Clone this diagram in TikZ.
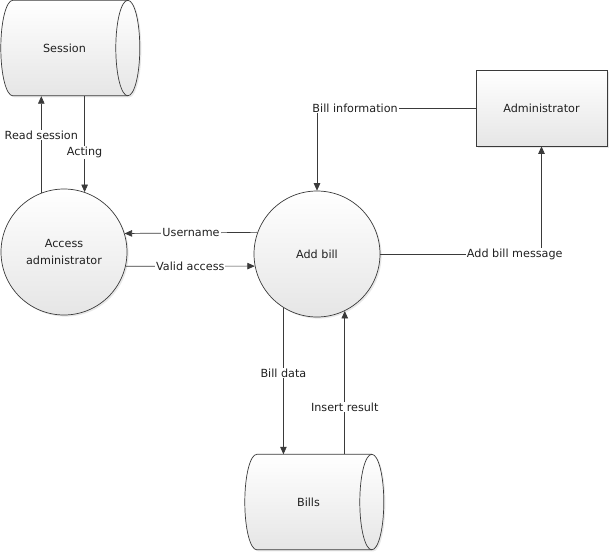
\documentclass[tikz,border=0pt]{standalone}
\usepackage{fontspec}
\setmainfont{DejaVu Sans}
\usetikzlibrary{arrows.meta,shadows,backgrounds}
\definecolor{ink}{HTML}{3A3A3A}
\definecolor{txt}{HTML}{202020}

\tikzset{
  base/.style={draw=ink, line width=0.7pt, top color=white, bottom color=black!10,
    drop shadow={shadow xshift=1.6pt, shadow yshift=-1.6pt, opacity=0.18}},
  process/.style={base, circle, minimum size=126pt, inner sep=0pt, align=center, text=txt},
  entity/.style={base, rectangle, minimum width=131pt, minimum height=76pt, text=txt},
  store/.style={rectangle, minimum width=127pt, minimum height=95.5pt, inner sep=0pt, text=txt},
  flow/.style={draw=ink, line width=0.7pt, -{Triangle[length=7.5pt,width=6.5pt]}},
  link/.style={draw=ink, line width=0.7pt},
  tag/.style={fill=white, inner sep=1pt, text=txt},
}

% data store outline: bulging left end, open ellipse on the right
\newcommand{\storeoutline}[1]{%
  \begin{scope}[on background layer, shift={(#1.north west)}]
    \path[base] (12,0) -- (127,0)
      .. controls (133.63,0) and (139,21.38) .. (139,47.75)
      .. controls (139,74.12) and (133.63,95.5) .. (127,95.5)
      -- (12,95.5)
      .. controls (5.37,95.5) and (0,74.12) .. (0,47.75)
      .. controls (0,21.38) and (5.37,0) .. cycle;
    \draw[link] (127,0)
      .. controls (120.37,0) and (115,21.38) .. (115,47.75)
      .. controls (115,74.12) and (120.37,95.5) .. (127,95.5);
  \end{scope}}

\begin{document}
\begin{tikzpicture}[x=1pt, y=-1pt, font=\fontsize{11.2}{17}\selectfont]
  \useasboundingbox (0,0) rectangle (611,552);

  % nodes
  \node[store] (session) at (64.5,48.25) {Session};
  \storeoutline{session}
  \node[store] (bills) at (308.5,502.25) {Bills};
  \storeoutline{bills}
  \node[process] (access) at (64,252) {Access\\administrator};
  \node[process] (addbill) at (317,254) {Add bill};
  \node[entity] (admin) at (541.5,108) {Administrator};

  % data flows
  \draw[flow] (access.111) -- (access.111 |- session.south)
    node[tag, pos=0.6] {Read session};
  \draw[flow] (access.71.5 |- session.south) -- (access.71.5)
    node[tag, pos=0.59] {Acting};
  \draw[flow] (addbill.160.5) -- (access.17.5)
    node[tag, midway] {Username};
  \draw[flow] (access.-13.8) -- (addbill.191.9)
    node[tag, midway] {Valid access};
  \draw[flow] (admin.west) -| (addbill.north)
    node[tag, pos=0.38] {Bill information};
  \draw[flow] (addbill.east) -| (admin.south)
    node[tag, pos=0.417] {Add bill message};
  \draw[flow] (addbill.238.4) -- (addbill.238.4 |- bills.north)
    node[tag, pos=0.446] {Bill data};
  \draw[flow] (addbill.-64.6 |- bills.north) -- (addbill.-64.6)
    node[tag, pos=0.33] {Insert result};
\end{tikzpicture}
\end{document}
